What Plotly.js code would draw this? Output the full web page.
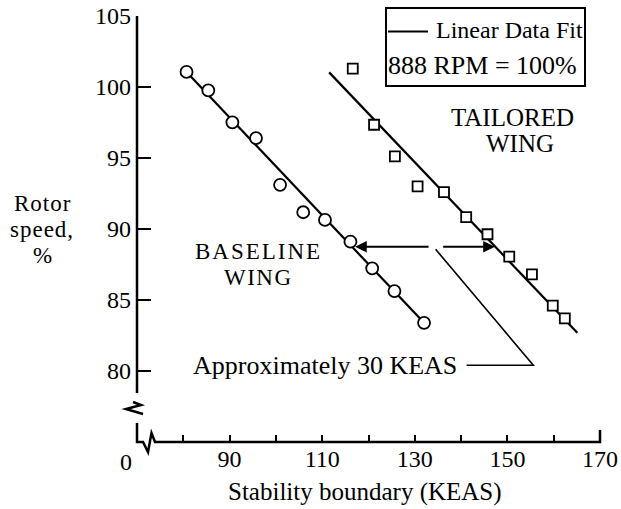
<!DOCTYPE html>
<html>
<head>
<meta charset="utf-8">
<script src="https://cdn.plot.ly/plotly-3.0.1.min.js"></script>
<style>html,body{margin:0;padding:0;background:#fff;}#chart{width:621px;height:509px;}</style>
</head>
<body>
<div id="chart"></div>
<script>
// Baseline wing data (circles)
const baselineX = [80.7, 85.4, 90.6, 95.7, 100.9, 105.9, 110.6, 116.1, 120.8, 125.6, 132.0];
const baselineY = [101.06, 99.76, 97.51, 96.40, 93.11, 91.18, 90.64, 89.11, 87.23, 85.63, 83.39];
// Tailored wing data (squares)
const tailoredX = [116.6, 121.2, 125.7, 130.6, 136.3, 141.1, 145.7, 150.4, 155.3, 159.8, 162.4];
const tailoredY = [101.29, 97.34, 95.11, 93.00, 92.59, 90.83, 89.63, 88.05, 86.81, 84.60, 83.70];
// Linear data fits
const baselineFitX = [80.7, 132.0];
const baselineFitY = [101.06, 83.39];
const tailoredFitX = [111.5, 165.1];
const tailoredFitY = [101.03, 82.69];
// Ticks
const xTickVals = [70, 80, 90, 100, 110, 120, 130, 140, 150, 160, 170];
const xTickText = ['', '', '90', '', '110', '', '130', '', '150', '', '170'];
const yTickVals = [80, 85, 90, 95, 100, 105];
const yTickText = ['80', '85', '90', '95', '100', '105'];
// "Approximately 30 KEAS" arrows and leader line (data coords)
const arrowY = 88.75;
const leftArrowTailX = 133.3, leftArrowHeadX = 117.1;
const rightArrowTailX = 135.8, rightArrowHeadX = 147.3;
const leaderX = [134.5, 155.6, 141.2];
const leaderY = [88.57, 80.41, 80.41];

// pixel -> paper helpers for layout decorations
const L = 137, T = 16, W = 463, H = 426;
const pxX = p => (p - L) / W;
const pxY = p => (T + H - p) / H;

const FONT = 'Liberation Serif';
const fs = 25;

const traces = [
  {x: baselineFitX, y: baselineFitY, mode: 'lines', line: {color: '#000', width: 2.2}, hoverinfo: 'skip'},
  {x: tailoredFitX, y: tailoredFitY, mode: 'lines', line: {color: '#000', width: 2.2}, hoverinfo: 'skip'},
  {x: baselineX, y: baselineY, mode: 'markers',
   marker: {symbol: 'circle', size: 12, color: '#fff', line: {color: '#000', width: 1.8}}},
  {x: tailoredX, y: tailoredY, mode: 'markers',
   marker: {symbol: 'square', size: 10, color: '#fff', line: {color: '#000', width: 1.8}}}
];

const P = (a, b) => pxX(a).toFixed(4) + ',' + pxY(b).toFixed(4);

const shapes = [
  {type: 'line', xref: 'paper', yref: 'paper', x0: 0, x1: 0, y0: 1, y1: pxY(393), line: {color: '#000', width: 2.5}},
  {type: 'path', xref: 'paper', yref: 'paper', path: 'M' + P(133, 402) + ' L' + P(141, 405) + ' L' + P(126, 409) + ' L' + P(143, 414), line: {color: '#000', width: 2.5}},
  {type: 'path', xref: 'paper', yref: 'paper',
   path: 'M' + P(137, 423) + ' L' + P(137, 442) + ' L' + P(143, 442) + ' L' + P(148, 452) + ' L' + P(151.5, 433) + ' L' + P(155, 442) + ' L' + P(600, 442) + ' L' + P(600, 430),
   line: {color: '#000', width: 2.5}},
  {type: 'rect', xref: 'paper', yref: 'paper', x0: pxX(386), x1: pxX(585), y0: pxY(8), y1: pxY(86), line: {color: '#000', width: 2}},
  {type: 'line', xref: 'paper', yref: 'paper', x0: pxX(388), x1: pxX(428), y0: pxY(31.5), y1: pxY(31.5), line: {color: '#000', width: 2.2}},
  {type: 'path', xref: 'x', yref: 'y', path: 'M' + leaderX[0] + ',' + leaderY[0] + ' L' + leaderX[1] + ',' + leaderY[1] + ' L' + leaderX[2] + ',' + leaderY[2], line: {color: '#000', width: 1.6}}
];

const txt = (text, x, y, extra, size) => Object.assign({text: text, x: x, y: y, showarrow: false,
  xanchor: 'center', yanchor: 'middle', font: {family: FONT, size: size || fs, color: '#000'}}, extra || {});
const sp = (s, px) => '<span style="letter-spacing:' + px + 'px">' + s + '</span>';
const paperRef = {xref: 'paper', yref: 'paper'};

const annotations = [
  txt(sp('BASELINE', 2), 96.3, 88.45, null, 23),
  txt(sp('WING', 1.5), 96.3, 86.62, null, 23),
  txt('TAILORED', 151.0, 97.82),
  txt('WING', 152.8, 96.04),
  txt('Approximately 30 KEAS', 110.6, 80.42, null, 26),
  txt('Linear Data Fit', pxX(434), pxY(30), {xref: 'paper', yref: 'paper', xanchor: 'left'}, 24),
  txt('888 RPM = 100%', pxX(482.5), pxY(65), paperRef, 26),
  txt(sp('Rotor', 1), pxX(42), pxY(203), paperRef, 23),
  txt(sp('speed,', 1), pxX(42), pxY(229), paperRef, 23),
  txt('%', pxX(42), pxY(255), paperRef, 23),
  txt('0', pxX(126), pxY(461.5), paperRef, 24),
  txt('Stability boundary (KEAS)', pxX(365.3), pxY(492), paperRef),
  {x: leftArrowHeadX, y: arrowY, ax: leftArrowTailX, ay: arrowY, axref: 'x', ayref: 'y', text: '', showarrow: true,
   arrowhead: 2, arrowsize: 1.3, arrowwidth: 1.8, arrowcolor: '#000', standoff: 0},
  {x: rightArrowHeadX, y: arrowY, ax: rightArrowTailX, ay: arrowY, axref: 'x', ayref: 'y', text: '', showarrow: true,
   arrowhead: 2, arrowsize: 1.3, arrowwidth: 1.8, arrowcolor: '#000', standoff: 0}
];

const layout = {
  width: 621, height: 509,
  margin: {l: L, r: 621 - L - W, t: T, b: 509 - T - H, pad: 0},
  paper_bgcolor: '#fff', plot_bgcolor: '#fff',
  showlegend: false,
  font: {family: FONT, size: fs, color: '#000'},
  xaxis: {range: [70, 170], showline: false, showgrid: false, zeroline: false,
          ticks: 'inside', ticklen: 7, tickwidth: 2, tickcolor: '#000',
          tickmode: 'array', tickvals: xTickVals, ticktext: xTickText,
          tickfont: {family: FONT, size: 24, color: '#000'}},
  yaxis: {range: [75, 105], showline: false, showgrid: false, zeroline: false,
          ticks: 'inside', ticklen: 14, tickwidth: 2, tickcolor: '#000',
          ticklabelstandoff: 5,
          tickmode: 'array', tickvals: yTickVals, ticktext: yTickText,
          tickfont: {family: FONT, size: 24, color: '#000'}},
  shapes: shapes,
  annotations: annotations
};

Plotly.newPlot('chart', traces, layout, {displayModeBar: false, staticPlot: true});
</script>
</body>
</html>
